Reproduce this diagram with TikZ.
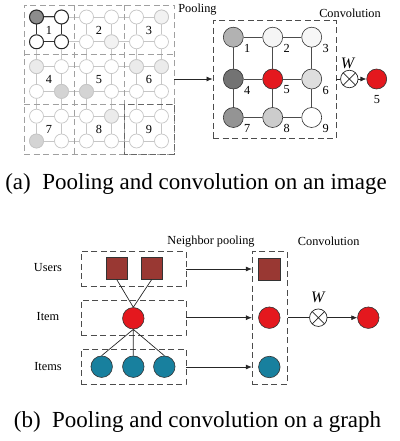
\documentclass[tikz,border=0pt]{standalone}
\usepackage{fontspec}
\setmainfont{Liberation Serif}
\usetikzlibrary{arrows.meta}

\definecolor{gridline}{RGB}{198,198,198}
\definecolor{cellbdr}{RGB}{160,160,160}
\definecolor{userbrown}{RGB}{153,56,51}
\definecolor{itemred}{RGB}{228,24,30}
\definecolor{itemteal}{RGB}{24,128,158}

\tikzset{
  pix/.style={circle, draw=gridline, fill=white, minimum size=14pt, inner sep=0pt, line width=0.7pt},
  pixsel/.style={pix, draw=black!85, line width=1pt},
  link/.style={draw=gridline, line width=0.8pt},
  sellink/.style={draw=black!80, line width=1pt},
  cellline/.style={draw=cellbdr, dash pattern=on 6pt off 3.5pt, line width=0.9pt},
  feat/.style={circle, draw=black!80, minimum size=20pt, inner sep=0pt, line width=0.6pt},
  featlink/.style={draw=black!70, line width=0.9pt},
  dbox/.style={draw=black!70, dash pattern=on 6pt off 3.5pt, line width=0.9pt, inner sep=0pt},
  lbl/.style={font=\fontsize{12.3}{14}\selectfont, inner sep=0pt},
  wlbl/.style={font=\fontsize{16}{18}\selectfont\itshape, inner sep=0pt},
  captext/.style={font=\fontsize{23}{26}\selectfont, inner sep=0pt},
  arr/.style={-{Latex[length=6pt,width=5pt]}, line width=0.7pt, draw=black!85},
  otimesnode/.style={circle, draw=black!85, fill=white, minimum size=17.5pt, inner sep=0pt, line width=0.7pt,
    path picture={\draw[black!85, line width=0.7pt]
      (path picture bounding box.north west) -- (path picture bounding box.south east)
      (path picture bounding box.north east) -- (path picture bounding box.south west);}},
  usersq/.style={rectangle, draw=black!80, fill=userbrown, minimum size=21.7pt, inner sep=0pt, line width=0.6pt},
  redball/.style={circle, draw=black!80, fill=itemred, minimum size=21.5pt, inner sep=0pt, line width=0.6pt},
  tealball/.style={circle, draw=black!80, fill=itemteal, minimum size=21.5pt, inner sep=0pt, line width=0.6pt},
}

\begin{document}
\begin{tikzpicture}[x=1pt, y=-1pt]
\useasboundingbox (0,0) rectangle (399,441);

% ---------------- (a) image: pooling grid ----------------
\def\xs{{36.5,61.5,86.5,111.5,136.5,161.5}}
\def\ys{{17,41.8,66.6,91.4,116.2,141}}

\foreach \i in {0,...,5}{
  \foreach \j in {0,...,5}{
    \pgfmathsetmacro{\px}{\xs[\i]}
    \pgfmathsetmacro{\py}{\ys[\j]}
    \node[pix] (g-\i-\j) at (\px,\py) {};
  }
}
% shaded pixels
\node[pixsel, fill=black!45] at (g-0-0) {};
\node[pixsel] at (g-1-0) {};
\node[pixsel] at (g-0-1) {};
\node[pixsel] at (g-1-1) {};
\node[pix, fill=black!5] at (g-3-1) {};
\node[pix, fill=black!5] at (g-5-0) {};
\node[pix, fill=black!8] at (g-0-2) {};
\node[pix, fill=black!17] at (g-1-3) {};
\node[pix, fill=black!17] at (g-2-3) {};
\node[pix, fill=black!8] at (g-4-2) {};
\node[pix, fill=black!8] at (g-5-2) {};
\node[pix, fill=black!8] at (g-3-4) {};
\node[pix, fill=black!17] at (g-0-5) {};

% pixel links
\foreach \i in {0,...,5}{
  \foreach \j [evaluate=\j as \jn using int(\j+1)] in {0,...,4}{
    \draw[link] (g-\i-\j) -- (g-\i-\jn);
    \draw[link] (g-\j-\i) -- (g-\jn-\i);
  }
}
\draw[sellink] (g-0-0) -- (g-1-0) -- (g-1-1) -- (g-0-1) -- (g-0-0);

% cell borders
\node[dbox, draw=cellbdr, minimum width=150pt, minimum height=149pt] (poolgrid) at (99,79.5) {};
\draw[cellline] (74,5) -- (74,154) (124,5) -- (124,154)
                (24,54) -- (174,54) (24,104) -- (174,104);
\draw[dbox, draw=black!60] (124,104) rectangle (174,154);

% cell numbers
\foreach \n/\cx/\cy in {1/49/30, 2/99/30, 3/149/30, 4/49/79.5, 5/99/79.5, 6/149/79.5,
                         7/49/129, 8/99/129, 9/149/129}{
  \node[lbl] (cn-\n) at (\cx,\cy) {\n};
}

\node[lbl] (tpool) at (197.5,10) {Pooling};
\node[lbl] (tconv) at (350,13) {Convolution};

% ---------------- (a) convolution ----------------
\node[dbox, minimum width=123pt, minimum height=117.5pt] (convbox) at (274.5,79.5) {};

\node[feat, fill=black!30] (c1) at (233.3,37.2) {};
\node[feat, fill=black!4]  (c2) at (272.7,37.2) {};
\node[feat, fill=black!3]  (c3) at (311.7,37.2) {};
\node[feat, fill=black!55] (c4) at (233.3,79) {};
\node[feat, fill=itemred]  (c5) at (272.7,79) {};
\node[feat, fill=black!13] (c6) at (311.7,79) {};
\node[feat, fill=black!42] (c7) at (233.3,117.5) {};
\node[feat, fill=black!20] (c8) at (272.7,117.5) {};
\node[feat, fill=white]    (c9) at (311.7,117.5) {};

\draw[featlink] (c1) -- (c2) (c2) -- (c3) (c4) -- (c5) (c5) -- (c6) (c7) -- (c8) (c8) -- (c9)
                (c1) -- (c4) (c4) -- (c7) (c2) -- (c5) (c5) -- (c8) (c3) -- (c6) (c6) -- (c9);

\foreach \n in {1,...,9}{
  \node[lbl] (cl-\n) at ([xshift=14pt,yshift=-11pt]c\n.center) {\n};
}

\draw[arr] (poolgrid.east |- c4) -- (convbox.west |- c4);

\node[otimesnode] (ox1) at (349.3,79) {};
\node[wlbl] (w1) at (347.5,63) {W};
\node[redball, minimum size=20pt] (out1) at (376.7,79) {};
\node[lbl] (out1l) at (377,100) {5};
\draw[line width=0.7pt, draw=black!85] (convbox.east |- ox1) -- (ox1);
\draw[arr] (ox1) -- (out1);

\node[captext] (capa) at (196,184) {(a)\ \ Pooling and convolution on an image};

% ---------------- (b) graph ----------------
\node[dbox, minimum width=105pt, minimum height=34.3pt] (ubox) at (133.5,268.8) {};
\node[dbox, minimum width=105pt, minimum height=35pt] (ibox) at (133.5,317.5) {};
\node[dbox, minimum width=105pt, minimum height=35pt] (tbox) at (133.5,366.5) {};

\node[usersq] (u1) at (116.7,268.3) {};
\node[usersq] (u2) at (151.7,268.3) {};
\node[redball] (it) at (133.3,318.3) {};
\node[tealball] (t1) at (101.7,366.7) {};
\node[tealball] (t2) at (133.3,366.7) {};
\node[tealball] (t3) at (164.3,366.7) {};

\draw[line width=0.7pt, draw=black!85] (u1.south) -- (it.north) (u2.south) -- (it.north)
  (it.south) -- (t1.north) (it.south) -- (t2.north) (it.south) -- (t3.north);

\node[lbl] (lusers) at (48,268) {Users};
\node[lbl] (litem) at (48,317) {Item};
\node[lbl] (litems) at (48,366.5) {Items};

\node[lbl] (tnp) at (211,241.7) {Neighbor pooling};
\node[lbl] (tconv2) at (328.7,241.7) {Convolution};

\node[dbox, minimum width=35pt, minimum height=133pt] (rbox) at (269.8,317.5) {};
\node[usersq] (rs) at (269.3,269) {};
\node[redball] (rr) at (269.3,317.7) {};
\node[tealball] (rt) at (269.3,367) {};

\draw[arr] (ubox.east |- rs) -- (rbox.west |- rs);
\draw[arr] (ibox.east |- rr) -- (rbox.west |- rr);
\draw[arr] (tbox.east |- rt) -- (rbox.west |- rt);

\node[otimesnode] (ox2) at (318.3,317.7) {};
\node[wlbl] (w2) at (317.7,297.7) {W};
\node[redball] (out2) at (368.3,317.7) {};
\draw[line width=0.7pt, draw=black!85] (rbox.east |- ox2) -- (ox2);
\draw[arr] (ox2) -- (out2);

\node[captext] (capb) at (197.5,422) {(b)\ \ Pooling and convolution on a graph};
\end{tikzpicture}
\end{document}
